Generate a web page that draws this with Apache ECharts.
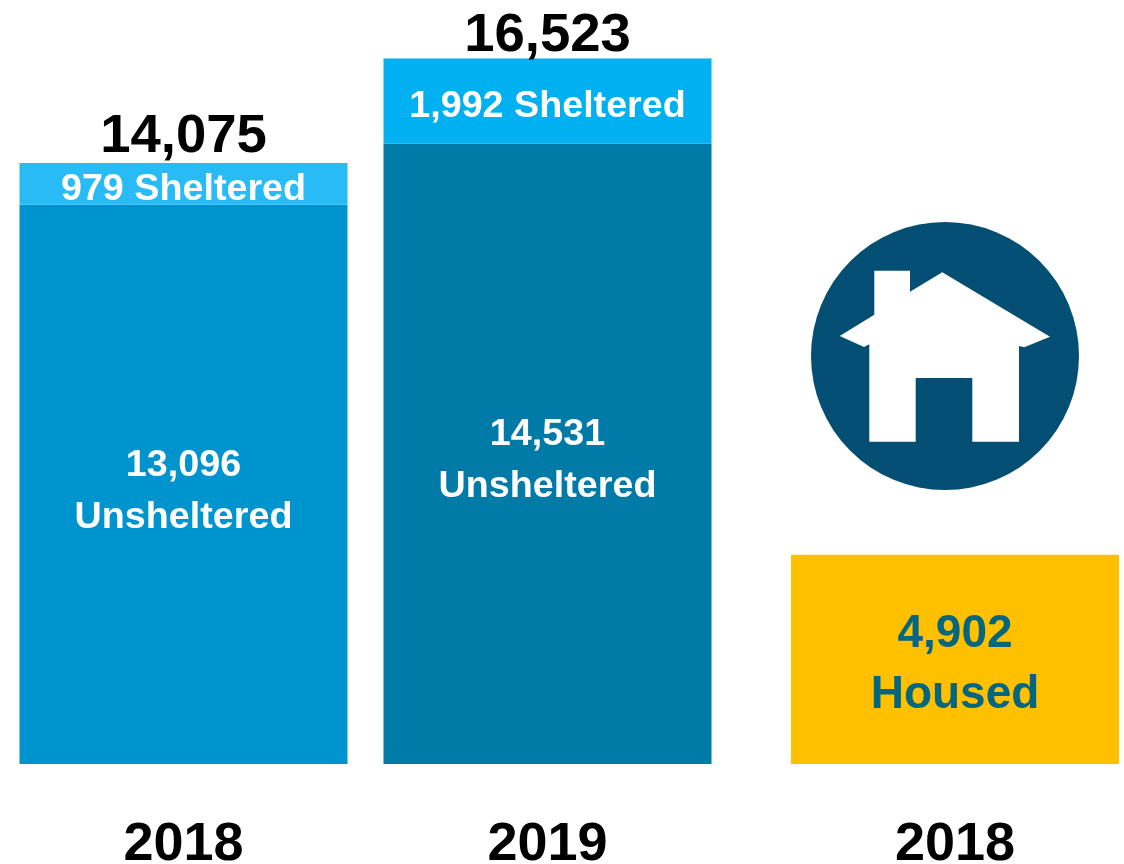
<!DOCTYPE html>
<html>
<head>
<meta charset="utf-8">
<style>html,body{margin:0;padding:0;background:#fff}#c{width:1124px;height:864px}</style>
<script src="https://cdn.jsdelivr.net/npm/echarts@6/dist/echarts.min.js"></script>
</head>
<body>
<div id="c"></div>
<script>
const yearCategories = ['2018', '2019'];
const housedCategories = ['2018'];
const unsheltered = [13096, 14531];
const sheltered = [979, 1992];
const totals = [14075, 16523];
const housed = [4902];
const unshelteredColors = ['#0094CE', '#007AA6'];
const shelteredColors = ['#29BBF5', '#00B0F0'];

const FONT = '"Liberation Sans", Arial, sans-serif';
const fmt = v => Number(v).toLocaleString('en-US');
const yMax = 17000;
const plotHeight = yMax * 0.0427;
const totalLabelOffsets = [1, 5];

const xAxisBase = {
  type: 'category',
  axisLine: {show: false},
  axisTick: {show: false},
  axisLabel: {fontFamily: FONT, fontSize: 54, fontWeight: 'bold', color: '#000', margin: 54, lineHeight: 54}
};
const yAxisBase = {type: 'value', min: 0, max: yMax, show: false, splitLine: {show: false}};

const housePoints = [
  [874.3,270.7],[910,270.7],[910,291.7],[942.3,272.3],[1050,336.7],[1024.3,347.3],[1019,346],
  [1019,441.7],[972.3,441.7],[972.3,378],[915.7,378],[915.7,441.7],[869.3,441.7],[869.3,344.3],
  [864,347],[839.7,336],[874.3,314.7]
];

const chart = echarts.init(document.getElementById('c'), null, {renderer: 'canvas'});
chart.setOption({
  animation: false,
  backgroundColor: '#fff',
  grid: [
    {left: 1.5, width: 728, top: 764 - plotHeight, height: plotHeight, outerBoundsMode: 'none'},
    {left: 785, width: 340, top: 764 - plotHeight, height: plotHeight, outerBoundsMode: 'none'}
  ],
  xAxis: [
    Object.assign({gridIndex: 0, data: yearCategories}, xAxisBase),
    Object.assign({gridIndex: 1, data: housedCategories}, xAxisBase)
  ],
  yAxis: [
    Object.assign({gridIndex: 0}, yAxisBase),
    Object.assign({gridIndex: 1}, yAxisBase)
  ],
  graphic: [
    {type: 'circle', shape: {cx: 945, cy: 356, r: 134}, style: {fill: '#034E73'}},
    {type: 'polygon', shape: {points: housePoints}, style: {fill: '#fff'}}
  ],
  series: [
    {
      name: 'Unsheltered', type: 'bar', stack: 'a', xAxisIndex: 0, yAxisIndex: 0, barWidth: 328,
      data: unsheltered.map((v, i) => ({value: v, itemStyle: {color: unshelteredColors[i]}})),
      label: {
        show: true, position: 'inside', color: '#fff', fontFamily: FONT, fontSize: 37.7, fontWeight: 'bold',
        lineHeight: 52, offset: [0, 7],
        formatter: p => fmt(p.value) + '\nUnsheltered'
      }
    },
    {
      name: 'Sheltered', type: 'bar', stack: 'a', xAxisIndex: 0, yAxisIndex: 0, barWidth: 328,
      data: sheltered.map((v, i) => ({value: v, itemStyle: {color: shelteredColors[i]}})),
      label: {
        show: true, position: 'inside', color: '#fff', fontFamily: FONT, fontSize: 37.7, fontWeight: 'bold',
        offset: [0, 6],
        formatter: p => fmt(p.value) + ' Sheltered'
      }
    },
    {
      name: 'Total', type: 'scatter', xAxisIndex: 0, yAxisIndex: 0, symbolSize: 0, silent: true,
      itemStyle: {opacity: 1},
      data: totals.map((v, i) => ({value: v, label: {offset: [0, totalLabelOffsets[i]]}})),
      label: {
        show: true, position: 'top', distance: 0, color: '#000', opacity: 1, fontFamily: FONT, fontSize: 54.5, fontWeight: 'bold',
        formatter: p => fmt(p.value)
      }
    },
    {
      name: 'Housed', type: 'bar', xAxisIndex: 1, yAxisIndex: 1, barWidth: 328,
      itemStyle: {color: '#FFC000'},
      data: housed,
      label: {
        show: true, position: 'inside', color: '#05667F', fontFamily: FONT, fontSize: 46, fontWeight: 'bold',
        lineHeight: 61, offset: [0, 5],
        formatter: p => fmt(p.value) + '\nHoused'
      }
    }
  ]
});
</script>
</body>
</html>
